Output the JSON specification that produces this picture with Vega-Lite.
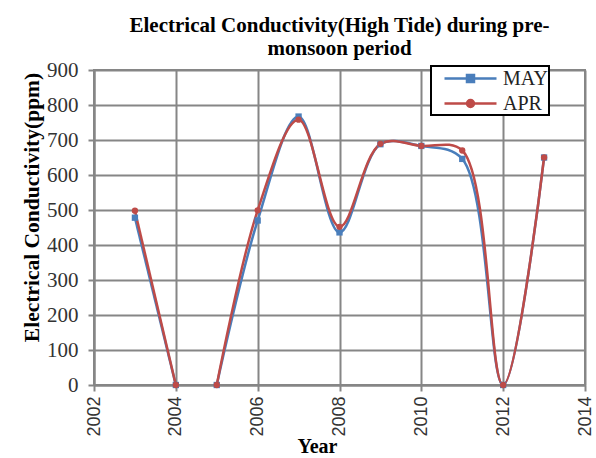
{
  "$schema": "https://vega.github.io/schema/vega-lite/v6.json",
  "width": 491,
  "height": 315,
  "autosize": {"type": "none"},
  "padding": {"left": 94, "top": 70, "right": 11, "bottom": 73},
  "background": "white",
  "title": {
    "text": ["Electrical Conductivity(High Tide) during pre-", "monsoon period"],
    "font": "Liberation Serif",
    "fontSize": 21,
    "fontWeight": "bold",
    "color": "black",
    "anchor": "middle",
    "lineHeight": 23,
    "baseline": "bottom",
    "offset": -21
  },
  "data": {
    "values": [
      {"year": 2003, "value": 478, "series": "MAY", "seg": "a"},
      {"year": 2004, "value": 0, "series": "MAY", "seg": "a"},
      {"year": 2005, "value": 0, "series": "MAY", "seg": "b"},
      {"year": 2006, "value": 470, "series": "MAY", "seg": "b"},
      {"year": 2007, "value": 767, "series": "MAY", "seg": "b"},
      {"year": 2008, "value": 436, "series": "MAY", "seg": "b"},
      {"year": 2009, "value": 688, "series": "MAY", "seg": "b"},
      {"year": 2010, "value": 683, "series": "MAY", "seg": "b"},
      {"year": 2011, "value": 646, "series": "MAY", "seg": "b"},
      {"year": 2012, "value": 0, "series": "MAY", "seg": "b"},
      {"year": 2013, "value": 650, "series": "MAY", "seg": "b"},
      {"year": 2003, "value": 498, "series": "APR", "seg": "a"},
      {"year": 2004, "value": 0, "series": "APR", "seg": "a"},
      {"year": 2005, "value": 0, "series": "APR", "seg": "b"},
      {"year": 2006, "value": 499, "series": "APR", "seg": "b"},
      {"year": 2007, "value": 758, "series": "APR", "seg": "b"},
      {"year": 2008, "value": 452, "series": "APR", "seg": "b"},
      {"year": 2009, "value": 689, "series": "APR", "seg": "b"},
      {"year": 2010, "value": 683, "series": "APR", "seg": "b"},
      {"year": 2011, "value": 670, "series": "APR", "seg": "b"},
      {"year": 2012, "value": 0, "series": "APR", "seg": "b"},
      {"year": 2013, "value": 650, "series": "APR", "seg": "b"}
    ]
  },
  "encoding": {
    "x": {
      "field": "year",
      "type": "quantitative",
      "scale": {"domain": [2002, 2014], "nice": false, "zero": false},
      "axis": {
        "values": [2002, 2004, 2006, 2008, 2010, 2012, 2014],
        "format": "d",
        "title": "Year",
        "labelAngle": 270,
        "labelFont": "Liberation Sans",
        "labelFontSize": 18,
        "labelColor": "#333333",
        "labelPadding": 5,
        "titleFont": "Liberation Serif",
        "titleFontSize": 20,
        "titleFontWeight": "bold",
        "titleColor": "black",
        "titleX": 223,
        "titleY": 67,
        "titleBaseline": "alphabetic",
        "titleAlign": "center"
      }
    },
    "y": {
      "field": "value",
      "type": "quantitative",
      "scale": {"domain": [0, 900], "nice": false},
      "axis": {
        "values": [0, 100, 200, 300, 400, 500, 600, 700, 800, 900],
        "title": "Electrical Conductivity(ppm)",
        "labelFont": "Liberation Serif",
        "labelFontSize": 21,
        "labelColor": "#333333",
        "labelPadding": 10,
        "titleFont": "Liberation Serif",
        "titleFontSize": 21.5,
        "titleFontWeight": "bold",
        "titleColor": "black",
        "titleAngle": 270,
        "titleX": -62,
        "titleY": 137,
        "titleAlign": "center",
        "titleBaseline": "middle"
      }
    },
    "color": {
      "field": "series",
      "type": "nominal",
      "scale": {"domain": ["MAY", "APR"], "range": ["#4A7EBB", "#BE4B48"]},
      "legend": {
        "title": null,
        "orient": "none",
        "legendX": 337,
        "legendY": -4,
        "padding": 1,
        "rowPadding": 3,
        "strokeColor": "black",
        "fillColor": "white",
        "labelFont": "Liberation Serif",
        "labelFontSize": 20,
        "labelColor": "#222222",
        "labelOffset": 48,
        "labelExpr": "datum.label + '\u00a0\u00a0\u00a0'",
        "symbolSize": 400,
        "symbolStrokeWidth": 2.5,
        "symbolType": "M0.1,0H5.3",
        "encode": {
          "symbols": {
            "update": {
              "shape": {"signal": "datum.value === 'MAY' ? 'M0.1,0H5.3M2.35,-0.35H3.05V0.35H2.35Z' : 'M0.1,0H5.3M2.35,0A0.35,0.35 0 1,0 3.05,0A0.35,0.35 0 1,0 2.35,0Z'"},
              "fill": {"signal": "datum.value === 'MAY' ? '#4A7EBB' : '#BE4B48'"},
              "stroke": {"signal": "datum.value === 'MAY' ? '#4A7EBB' : '#BE4B48'"}
            }
          }
        }
      }
    }
  },
  "layer": [
    {
      "mark": {"type": "line", "interpolate": "catmull-rom", "strokeWidth": 2.5},
      "encoding": {"detail": {"field": "seg", "type": "nominal"}}
    },
    {
      "transform": [{"filter": "datum.series === 'MAY'"}],
      "mark": {"type": "point", "filled": true, "size": 40, "opacity": 1, "shape": "square"}
    },
    {
      "transform": [{"filter": "datum.series === 'APR'"}],
      "mark": {"type": "point", "filled": true, "size": 40, "opacity": 1, "shape": "circle"}
    }
  ],
  "config": {
    "view": {"stroke": "#868686", "strokeWidth": 2},
    "legend": {"strokeWidth": 2},
    "axis": {
      "grid": true,
      "gridColor": "#868686",
      "gridWidth": 2,
      "gridOpacity": 1,
      "domainColor": "#868686",
      "domainWidth": 2,
      "tickColor": "#868686",
      "tickWidth": 2,
      "tickSize": 6
    }
  }
}
